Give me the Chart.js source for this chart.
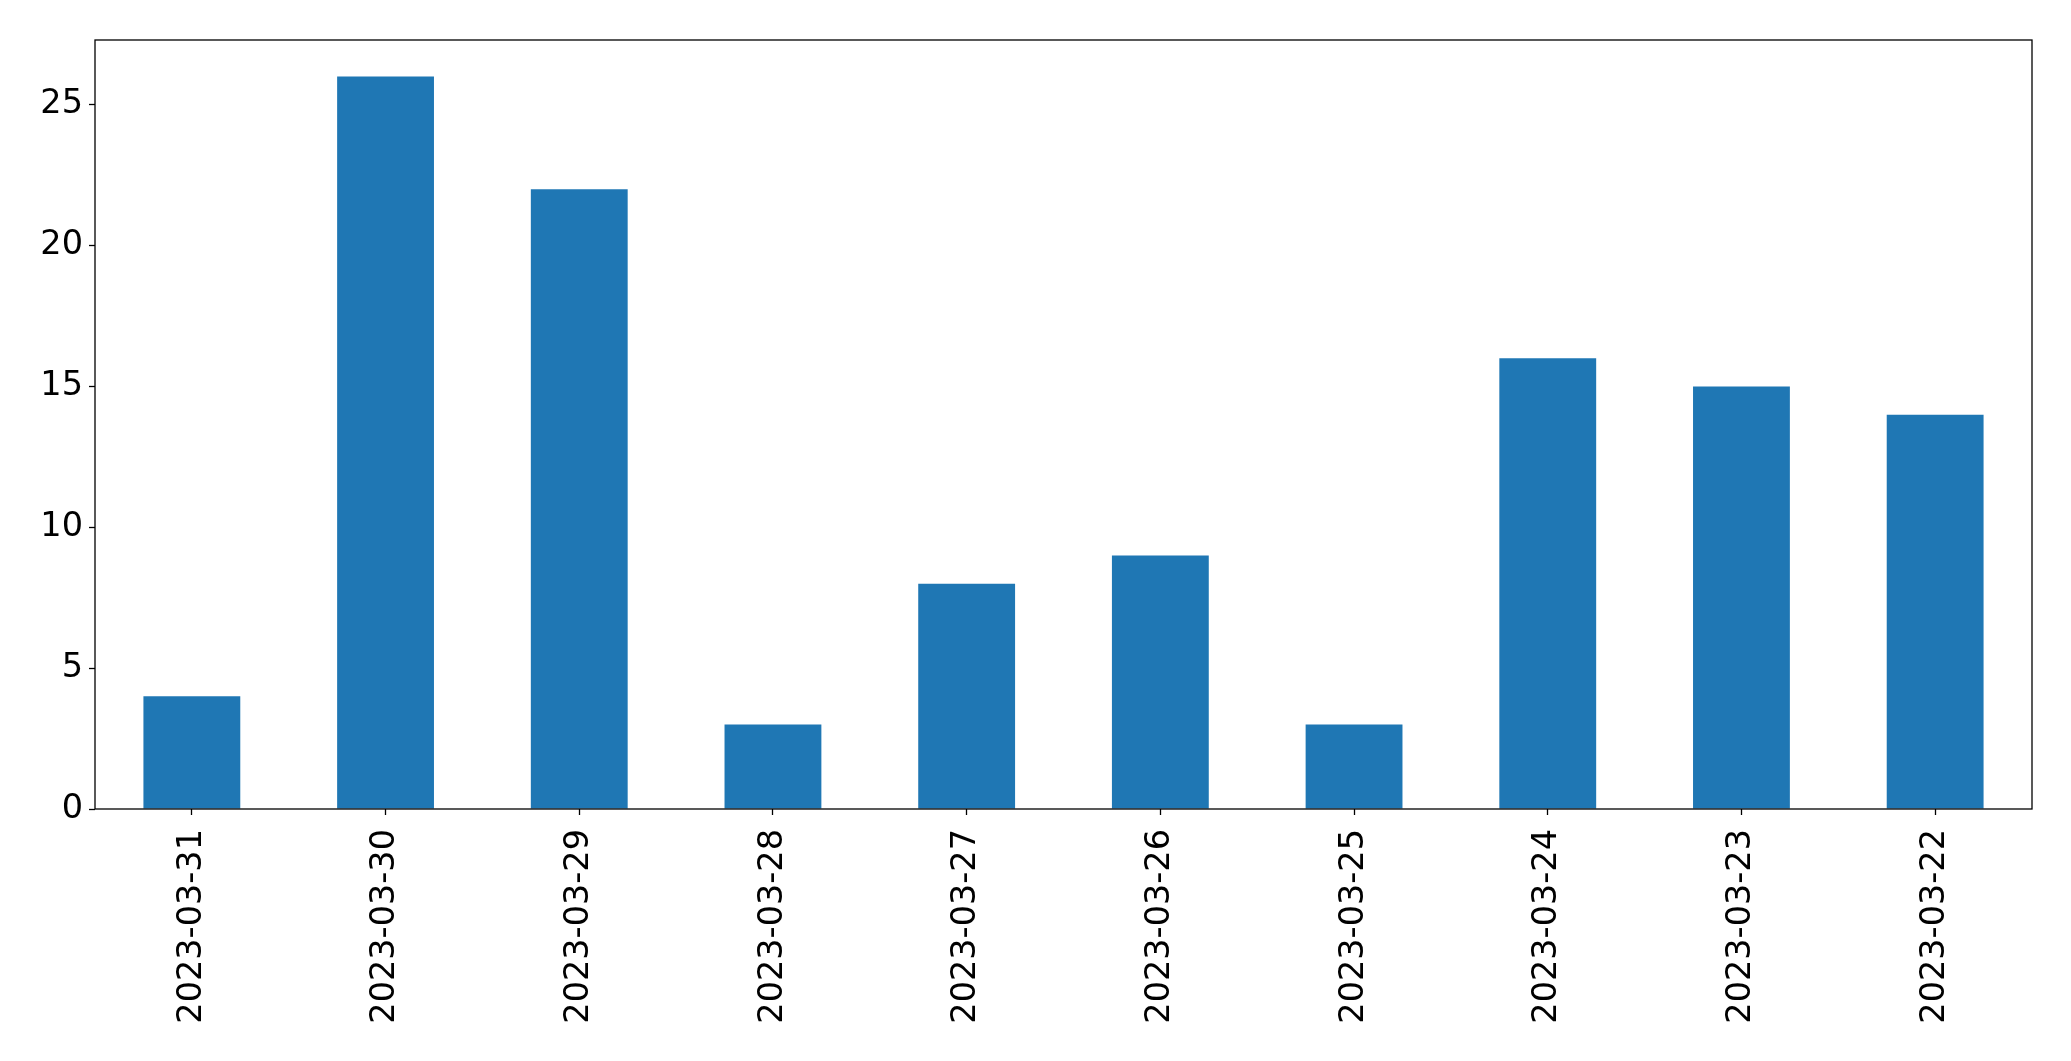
<!DOCTYPE html>
<html>
<head>
<meta charset="utf-8">
<style>
  html, body { margin: 0; padding: 0; background: #ffffff; }
  #wrap { width: 2071px; height: 1061px; position: relative; }
</style>
<script src="https://cdn.jsdelivr.net/npm/chart.js@4/dist/chart.umd.min.js"></script>
</head>
<body>
<div id="wrap"><canvas id="c" width="2071" height="1061"></canvas></div>
<script>
const categories = ["2023-03-31","2023-03-30","2023-03-29","2023-03-28","2023-03-27","2023-03-26","2023-03-25","2023-03-24","2023-03-23","2023-03-22"];
const counts = [4, 26, 22, 3, 8, 9, 3, 16, 15, 14];
const yTicks = [0, 5, 10, 15, 20, 25];
const yMax = 27.3;

const frame = {
  id: 'frame',
  afterDraw(chart) {
    const a = chart.chartArea, ctx = chart.ctx;
    ctx.save();
    ctx.strokeStyle = '#000';
    ctx.lineWidth = 1.3;
    ctx.strokeRect(a.left, a.top, a.right - a.left, a.bottom - a.top);
    ctx.restore();
  }
};

new Chart(document.getElementById('c'), {
  type: 'bar',
  data: {
    labels: categories,
    datasets: [{ data: counts, backgroundColor: '#1f77b4', borderWidth: 0, barPercentage: 0.5, categoryPercentage: 1.0 }]
  },
  options: {
    responsive: false,
    animation: false,
    devicePixelRatio: 1,
    layout: { padding: { left: 0, right: 39, top: 40, bottom: 0 } },
    plugins: { legend: { display: false }, tooltip: { enabled: false } },
    scales: {
      x: {
        offset: true,
        grid: { display: true, drawOnChartArea: false, drawTicks: true, tickLength: 6, tickWidth: 1.3, tickColor: '#000', offset: false },
        border: { display: false },
        ticks: { color: '#000', font: { family: 'DejaVu Sans', size: 33.5 }, maxRotation: 90, minRotation: 90, padding: 14, autoSkip: false },
        afterFit(axis) { axis.height = 1061 - 809; }
      },
      y: {
        min: 0, max: yMax,
        afterBuildTicks(axis) { axis.ticks = yTicks.map(v => ({ value: v })); },
        grid: { display: true, drawOnChartArea: false, drawTicks: true, tickLength: 6, tickWidth: 1.3, tickColor: '#000' },
        border: { display: false },
        ticks: { color: '#000', font: { family: 'DejaVu Sans', size: 33.5 }, padding: 6 },
        afterFit(axis) { axis.width = 95; }
      }
    }
  },
  plugins: [frame]
});
</script>
</body>
</html>
